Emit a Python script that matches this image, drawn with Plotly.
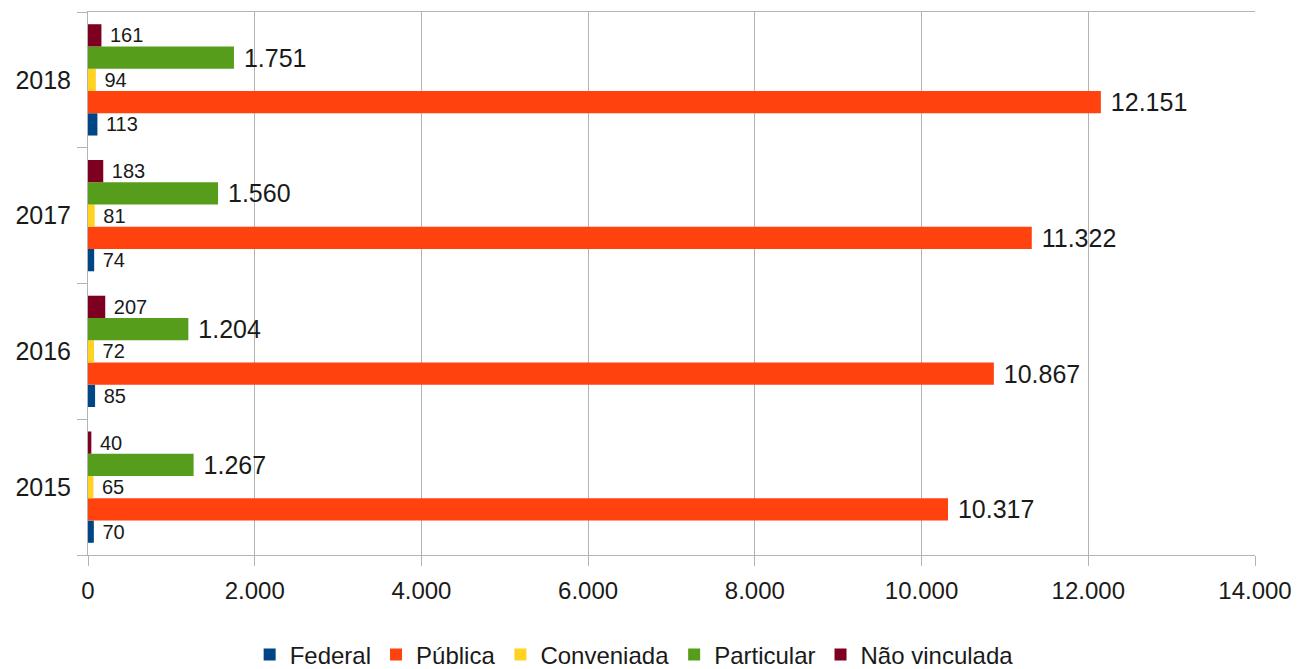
import plotly.graph_objects as go

years = ["2015", "2016", "2017", "2018"]
federal = [70, 85, 74, 113]
publica = [10317, 10867, 11322, 12151]
conveniada = [65, 72, 81, 94]
particular = [1267, 1204, 1560, 1751]
nao_vinculada = [40, 207, 183, 161]

series = [
    ("Federal", federal, "#004586", 20),
    ("Pública", publica, "#ff420e", 25),
    ("Conveniada", conveniada, "#ffd320", 20),
    ("Particular", particular, "#579d1c", 25),
    ("Não vinculada", nao_vinculada, "#7e0021", 20),
]

def fmt(v):
    return " " + f"{v:,}".replace(",", ".")

fig = go.Figure()
for name, vals, color, fs in series:
    fig.add_trace(go.Bar(
        name=name, y=years, x=vals, orientation="h",
        marker=dict(color=color, line=dict(width=0)),
        text=[fmt(v) for v in vals], textposition="outside",
        textfont=dict(size=fs, color="#1a1a1a"),
        constraintext="none",
        cliponaxis=False,
    ))

fig.update_layout(
    width=1301, height=669,
    margin=dict(l=88, r=46, t=12, b=114, autoexpand=False),
    barmode="group", bargap=0.18, bargroupgap=0,
    plot_bgcolor="white", paper_bgcolor="white",
    separators=",.",
    font=dict(family="Liberation Sans, Arial, sans-serif", size=24, color="#1a1a1a"),
    legend=dict(orientation="h", x=0.468, xanchor="center", y=-0.184, yanchor="middle",
                font=dict(size=24), itemwidth=30, traceorder="normal"),
)
fig.update_xaxes(
    range=[0, 14000], dtick=2000, tickformat=",d",
    showgrid=True, gridcolor="#b3b3b3", gridwidth=1,
    showline=True, linecolor="#b3b3b3", mirror=True,
    ticks="outside", ticklen=10, tickcolor="#b3b3b3",
    zeroline=False, tickfont=dict(size=24), ticklabelstandoff=4,
    automargin=False,
)
fig.update_yaxes(
    type="category", categoryorder="array", categoryarray=years,
    showgrid=False, showline=True, linecolor="#b3b3b3",
    ticks="outside", ticklen=10, tickcolor="#b3b3b3", tickson="boundaries",
    tickfont=dict(size=25), ticklabelstandoff=11, automargin=False,
)

fig.write_html("out.html", config={"displayModeBar": False},
               post_script="document.body.style.margin='0';document.body.style.overflow='hidden';")
